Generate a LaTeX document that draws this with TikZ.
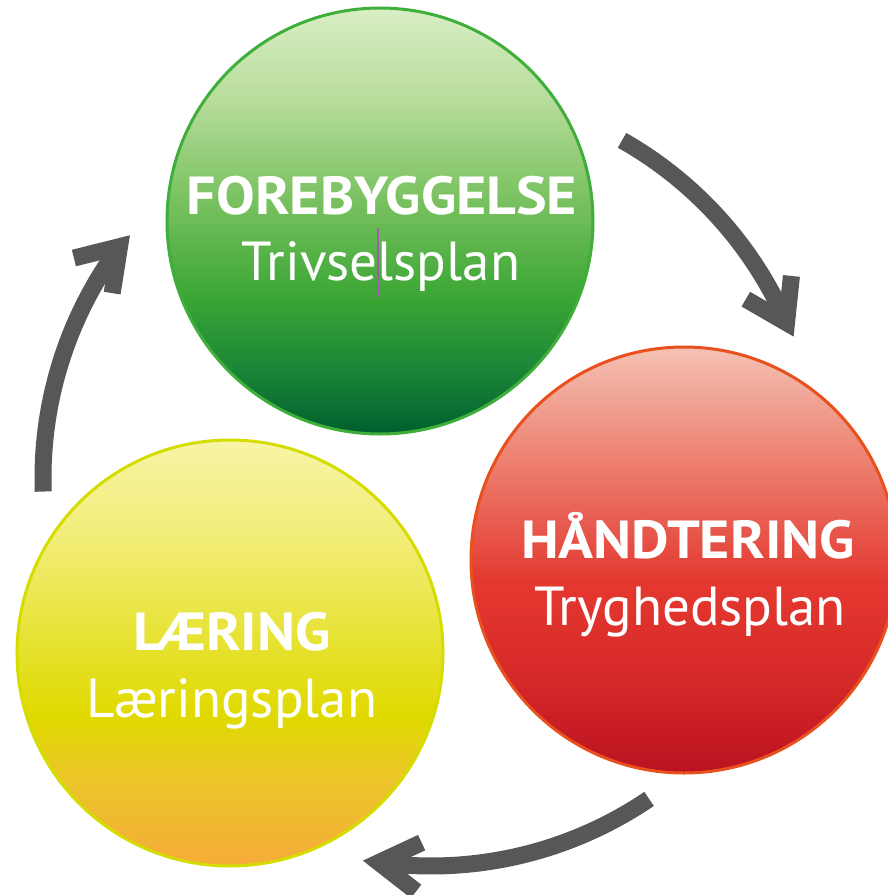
\documentclass[tikz,border=0pt]{standalone}
\usepackage{fontspec}
\setmainfont{PT Sans}
\newfontfamily\titlefont[FakeStretch=1.08]{PT Sans}
\usetikzlibrary{calc}
\definecolor{arrowgray}{HTML}{575756}
\definecolor{g0}{HTML}{D9EEC4}\definecolor{g1}{HTML}{B6DC9A}\definecolor{g2}{HTML}{79C160}
\definecolor{g3}{HTML}{3AA634}\definecolor{g4}{HTML}{1A8537}\definecolor{g5}{HTML}{005F2E}
\definecolor{r0}{HTML}{F4C2B4}\definecolor{r1}{HTML}{EF9080}\definecolor{r2}{HTML}{E85F52}
\definecolor{r3}{HTML}{E4382F}\definecolor{r4}{HTML}{D82B2A}\definecolor{r5}{HTML}{BB1220}
\definecolor{y0}{HTML}{F8F4A6}\definecolor{y1}{HTML}{F1EC72}\definecolor{y2}{HTML}{E5E12A}
\definecolor{y3}{HTML}{E0D900}\definecolor{y4}{HTML}{EBC52A}\definecolor{y5}{HTML}{F6AC38}
\definecolor{gborder}{HTML}{3FAE3A}\definecolor{rborder}{HTML}{E8501E}\definecolor{yborder}{HTML}{D5DD00}
\definecolor{cursorpurple}{HTML}{A05CB0}
\pgfdeclareverticalshading{greenshade}{100bp}{color(0bp)=(g5); color(25bp)=(g5); color(32.5bp)=(g4); color(41bp)=(g3); color(52.5bp)=(g2); color(64bp)=(g1); color(75bp)=(g0); color(100bp)=(g0)}
\pgfdeclareverticalshading{redshade}{100bp}{color(0bp)=(r5); color(25bp)=(r5); color(37.5bp)=(r4); color(47.5bp)=(r3); color(55bp)=(r2); color(65bp)=(r1); color(75bp)=(r0); color(100bp)=(r0)}
\pgfdeclareverticalshading{yellowshade}{100bp}{color(0bp)=(y5); color(25bp)=(y5); color(35bp)=(y4); color(42.5bp)=(y3); color(50bp)=(y2); color(62.5bp)=(y1); color(75bp)=(y0); color(100bp)=(y0)}
\tikzset{
  ball/.style={circle, minimum size=426pt, inner sep=0pt, line width=3pt},
  title/.style={anchor=base, inner sep=0pt, text=white, font=\titlefont\bfseries\fontsize{53.6}{60}\selectfont},
  sub/.style={anchor=base, inner sep=0pt, text=white, font=\fontsize{55}{62}\selectfont},
  flow/.style={draw=arrowgray, line width=17pt, line cap=butt},
  chevron/.style={draw=arrowgray, line width=17pt, line cap=butt, line join=miter, miter limit=10},
}
\begin{document}
\begin{tikzpicture}[x=1pt,y=1pt]
\useasboundingbox (0,0) rectangle (887,-895);
% circles
\node[ball, shading=greenshade, draw=gborder] (green) at (380,-221) {};
\node[ball, shading=redshade, draw=rborder] (red) at (684,-560) {};
\node[ball, shading=yellowshade, draw=yborder] (yellow) at (230,-653) {};
% texts
\node[title] (gt1) at (382,-214) {FOREBYGGELSE};
\node[sub] (gt2) at (381,-280) {Trivselsplan};
\node[title] (rt1) at (688,-558) {HÅNDTERING};
\node[sub] (rt2) at (690,-625) {Tryghedsplan};
\node[title] (yt1) at (232,-650) {LÆRING};
\node[sub] (yt2) at (232,-717) {Læringsplan};
\coordinate (cur1) at (378,-228);
\coordinate (cur2) at (378,-297);
\draw[cursorpurple, line width=1.5pt] (cur1) -- (cur2);
% cycle arrows
\coordinate (c) at (431,-478);
\def\R{388}
% arrow 1: green -> red
\coordinate (a1s) at ($(c)+(60.5:\R)$);
\coordinate (a1t) at ($(c)+(23.6:\R)$);
\draw[flow] (a1s) arc[start angle=60.5, end angle=23.6, radius=388pt];
\draw[chevron] ($(a1t)+(150:47)$) -- (a1t) -- ($(a1t)+(84:47)$);
% arrow 2: red -> yellow
\coordinate (a2s) at ($(c)+(-55.8:\R)$);
\coordinate (a2t) at ($(c)+(-97.7:\R)$);
\draw[flow] (a2s) arc[start angle=-55.8, end angle=-97.7, radius=388pt];
\draw[chevron] ($(a2t)+(25:47)$) -- (a2t) -- ($(a2t)+(-38:47)$);
% arrow 3: yellow -> green
\coordinate (a3s) at ($(c)+(182:\R)$);
\coordinate (a3t) at ($(c)+(143.4:\R)$);
\draw[flow] (a3s) arc[start angle=182, end angle=143.4, radius=388pt];
\draw[chevron] ($(a3t)+(194:47)$) -- (a3t) -- ($(a3t)+(261:47)$);
\end{tikzpicture}
\end{document}
